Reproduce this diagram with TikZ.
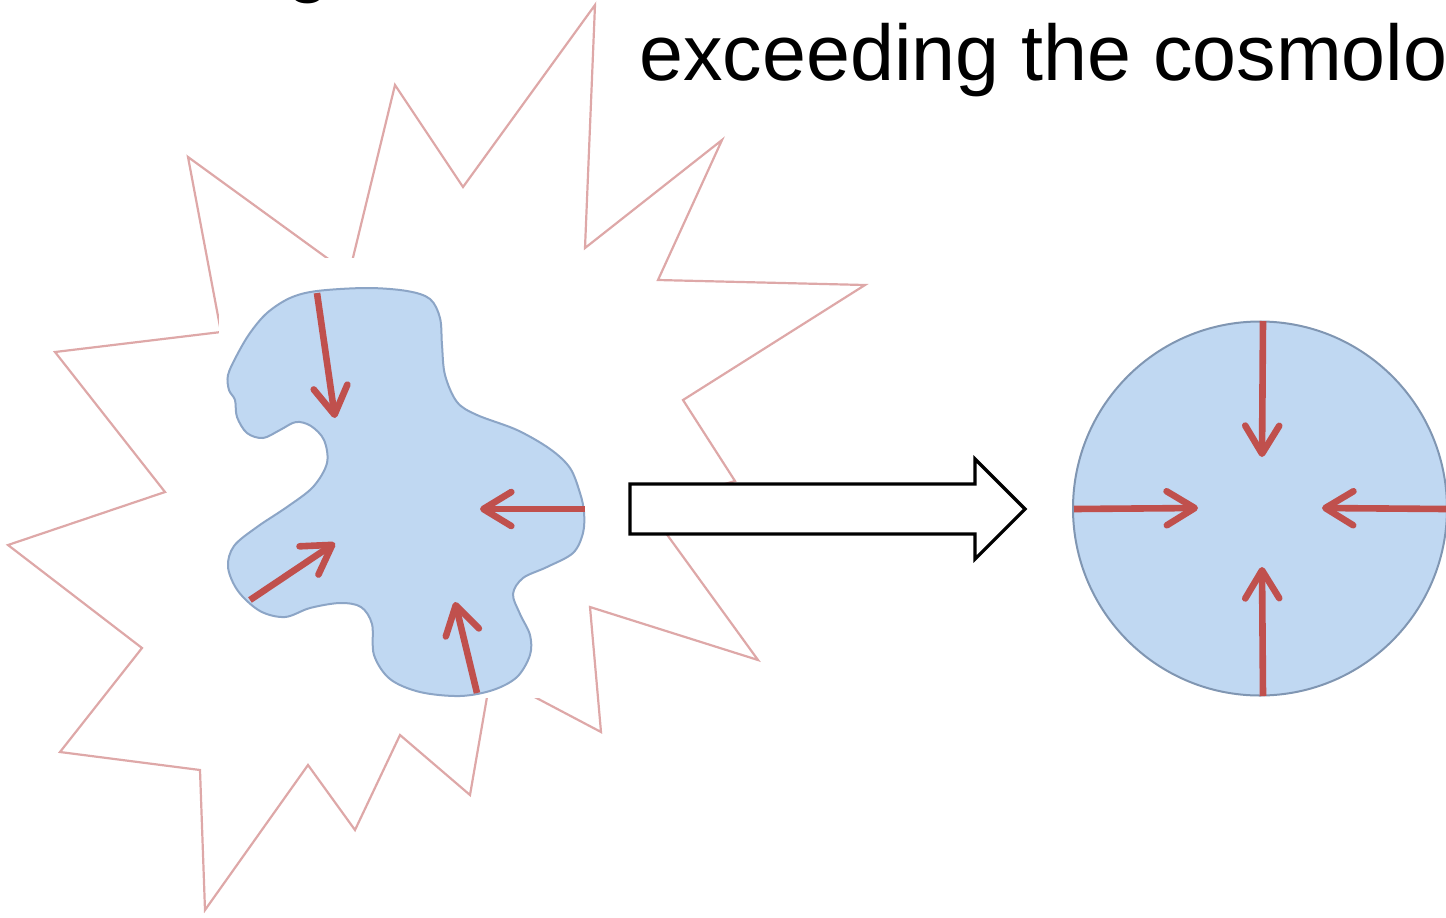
\documentclass[tikz,border=0pt]{standalone}
\usepackage{fontspec}
\setmainfont{Liberation Sans}
\usetikzlibrary{arrows.meta}
\definecolor{starred}{RGB}{222,168,168}
\definecolor{blobfill}{RGB}{192,216,242}
\definecolor{blobedge}{RGB}{140,165,198}
\definecolor{circedge}{RGB}{128,150,178}
\definecolor{arrred}{RGB}{192,80,77}
\tikzset{
  starline/.style={draw=starred, line width=1.1pt, line join=miter},
  blobshape/.style={fill=blobfill, draw=blobedge, line width=1pt},
  circshape/.style={fill=blobfill, draw=circedge, line width=1pt},
  redarrow/.style={draw=arrred, line width=3.3pt, -{Straight Barb[length=14pt,width=17pt,round]}},
  blockarrow/.style={fill=white, draw=black, line width=1.6pt, line join=miter},
  titletext/.style={anchor=base west, inner sep=0pt, font=\fontsize{39.5}{47}\selectfont}
}
\begin{document}
\begin{tikzpicture}[x=0.5pt,y=-0.5pt]
\useasboundingbox (0,0) rectangle (1446,917);
\clip (0,0) rectangle (1446,917);
% partial line of text above (only a descender shows)
\node[titletext] (above) at (286,-13) {g};
\node[titletext] (title) at (639,80) {exceeding the cosmolo};
% explosion star
\draw[starline] (595,5) -- (585,248) -- (722,140) -- (658,280) -- (865,285) -- (683,400)
  -- (735,481) -- (647,507) -- (758,660) -- (590,607) -- (601,732) -- (491,674)
  -- (470,795) -- (400,735) -- (355,830) -- (308,765) -- (205,910) -- (200,770)
  -- (60,752) -- (142,648) -- (8,545) -- (165,492) -- (55,352) -- (221,332)
  -- (188,157) -- (349,274) -- (395,85) -- (463,187) -- cycle;
% white backdrop of the blob
\fill[white] (219,258) rectangle (587,698);
% irregular blob
\draw[blobshape] plot[smooth cycle, tension=0.55] coordinates {
 (317,291) (367,288) (407,291) (430,299) (440,318) (442,345) (445,375) (457,402)
 (477,415) (517,430) (550,449) (570,468) (580,493) (584,512) (583,533) (573,553)
 (547,567) (523,578) (513,594) (520,614) (530,635) (530,655) (517,677) (493,690)
 (460,696) (420,692) (390,679) (374,655) (372,624) (361,607) (340,603) (310,608)
 (285,617) (260,611) (238,591) (228,567) (234,546) (257,527) (287,507) (313,487)
 (327,463) (324,440) (311,426) (296,422) (280,430) (263,438) (247,433) (237,417)
 (235,400) (229,390) (228,375) (237,355) (250,333) (267,313) (290,298)};
\draw[redarrow] (317,293) -- (335,418);
\draw[redarrow] (585,509) -- (480,509);
\draw[redarrow] (250,600) -- (335,543);
\draw[redarrow] (477,693) -- (455,602);
% block arrow
\draw[blockarrow] (630,484) -- (975,484) -- (975,459) -- (1025,509) -- (975,559)
  -- (975,534) -- (630,534) -- cycle;
% sphere
\draw[circshape] (1260,508.5) circle[radius=93.5pt];
\draw[redarrow] (1263,321) -- (1262,457);
\draw[redarrow] (1263,696) -- (1262,567);
\draw[redarrow] (1074,509) -- (1198,508);
\draw[redarrow] (1446,509) -- (1322,508);
\end{tikzpicture}
\end{document}
